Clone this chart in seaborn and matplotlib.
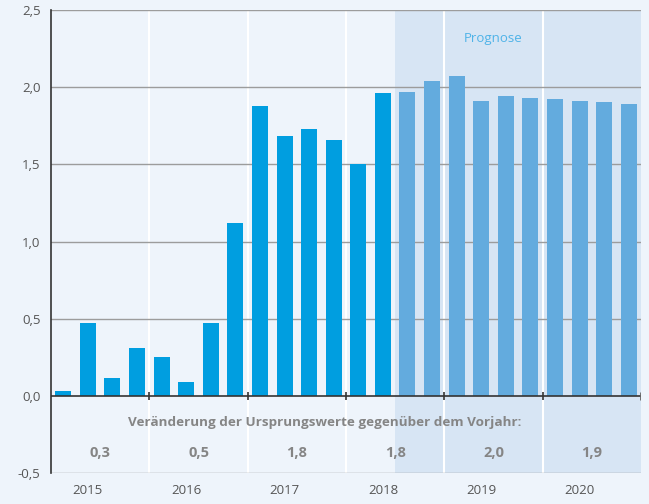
import matplotlib
matplotlib.use("Agg")
import matplotlib.pyplot as plt
import seaborn as sns
import pandas as pd

# Quarterly change of the original values, 2015 Q1 - 2020 Q4
quarters = [f"{y} Q{q}" for y in range(2015, 2021) for q in range(1, 5)]
values = [0.03, 0.47, 0.12, 0.31,
          0.25, 0.09, 0.47, 1.12,
          1.88, 1.68, 1.73, 1.66,
          1.50, 1.96, 1.97, 2.04,
          2.07, 1.91, 1.94, 1.93,
          1.92, 1.91, 1.90, 1.89]
n_actual = 14  # quarters with observed data; the rest are forecast
years = ["2015", "2016", "2017", "2018", "2019", "2020"]
annual_change = ["0,3", "0,5", "1,8", "1,8", "2,0", "1,9"]
header_text = "Veränderung der Ursprungswerte gegenüber dem Vorjahr:"
forecast_text = "Prognose"
y_ticks = [-0.5, 0.0, 0.5, 1.0, 1.5, 2.0, 2.5]

kind = ["Ist"] * n_actual + ["Prognose"] * (len(values) - n_actual)
df = pd.DataFrame({"quarter": quarters, "value": values, "kind": kind})

sns.set_theme(style="white")
plt.rcParams["font.family"] = ["Open Sans", "DejaVu Sans"]

BG = "#eef4fb"
SHADE = "#d7e5f4"
C_ACT = "#009ee0"
C_FC = "#63abde"
GRID = "#9c9c9c"
DARK = "#333333"
TXT = "#555555"
ANN = "#858585"

fig = plt.figure(figsize=(6.49, 5.04), dpi=100, facecolor=BG)
ax = fig.add_axes([0.0786, 0.0609, 0.9091, 0.9197])
ax.set_facecolor(BG)

# forecast shading
n = len(values)
ax.axvspan(n_actual - 0.5, n - 0.5, color=SHADE, zorder=0, lw=0)

# white year separators
for b in range(4, n, 4):
    ax.axvline(b - 0.5, color="white", lw=1.5, zorder=1)

# horizontal grid
for t in y_ticks:
    if t != 0:
        ax.axhline(t, color=GRID, lw=1.0, zorder=1.5)

sns.barplot(data=df, x="quarter", y="value", hue="kind",
            palette={"Ist": C_ACT, "Prognose": C_FC},
            dodge=False, width=0.65, legend=False, ax=ax,
            saturation=1, zorder=3, linewidth=0)

ax.set_xlim(-0.5, n - 0.5)
ax.set_ylim(-0.5, 2.5)

# zero line with year ticks
ax.axhline(0, color=DARK, lw=1.2, zorder=4)
for b in range(4, n + 1, 4):
    ax.plot([b - 0.5, b - 0.5], [-0.026, 0.026],
            color=DARK if b < n else "#666666", lw=1.2 if b < n else 2.0,
            zorder=4, solid_capstyle="butt")

for s in ["top", "right", "bottom"]:
    ax.spines[s].set_visible(False)
ax.spines["left"].set_color(DARK)
ax.spines["left"].set_linewidth(1.2)
ax.spines["left"].set_zorder(5)

ax.set_yticks(y_ticks)
ax.set_yticklabels([f"{t:.1f}".replace(".", ",") for t in y_ticks])
ax.tick_params(axis="y", direction="inout", length=9, width=1.2,
               color=DARK, labelcolor=TXT, labelsize=9.5, pad=3)
ax.set_xticks([])
ax.set_xlabel("")
ax.set_ylabel("")

# year labels below the axis
for i, yr in enumerate(years):
    ax.text(4 * i + 1, -0.5 - 0.11, yr, ha="center", va="center",
            fontsize=9.5, color=TXT, clip_on=False)

# annual change annotations
ax.text(10.65, -0.17, header_text, ha="center", va="center",
        fontsize=9.7, fontweight="bold", color=ANN)
for i, v in enumerate(annual_change):
    ax.text(4 * i + 1.5, -0.37, v, ha="center", va="center",
            fontsize=10.5, fontweight="bold", color=ANN)

ax.text(17.5, 2.317, forecast_text, ha="center", va="center",
        fontsize=9.5, color="#4fb3e8")

fig.savefig("out.png", dpi=100, facecolor=BG)
